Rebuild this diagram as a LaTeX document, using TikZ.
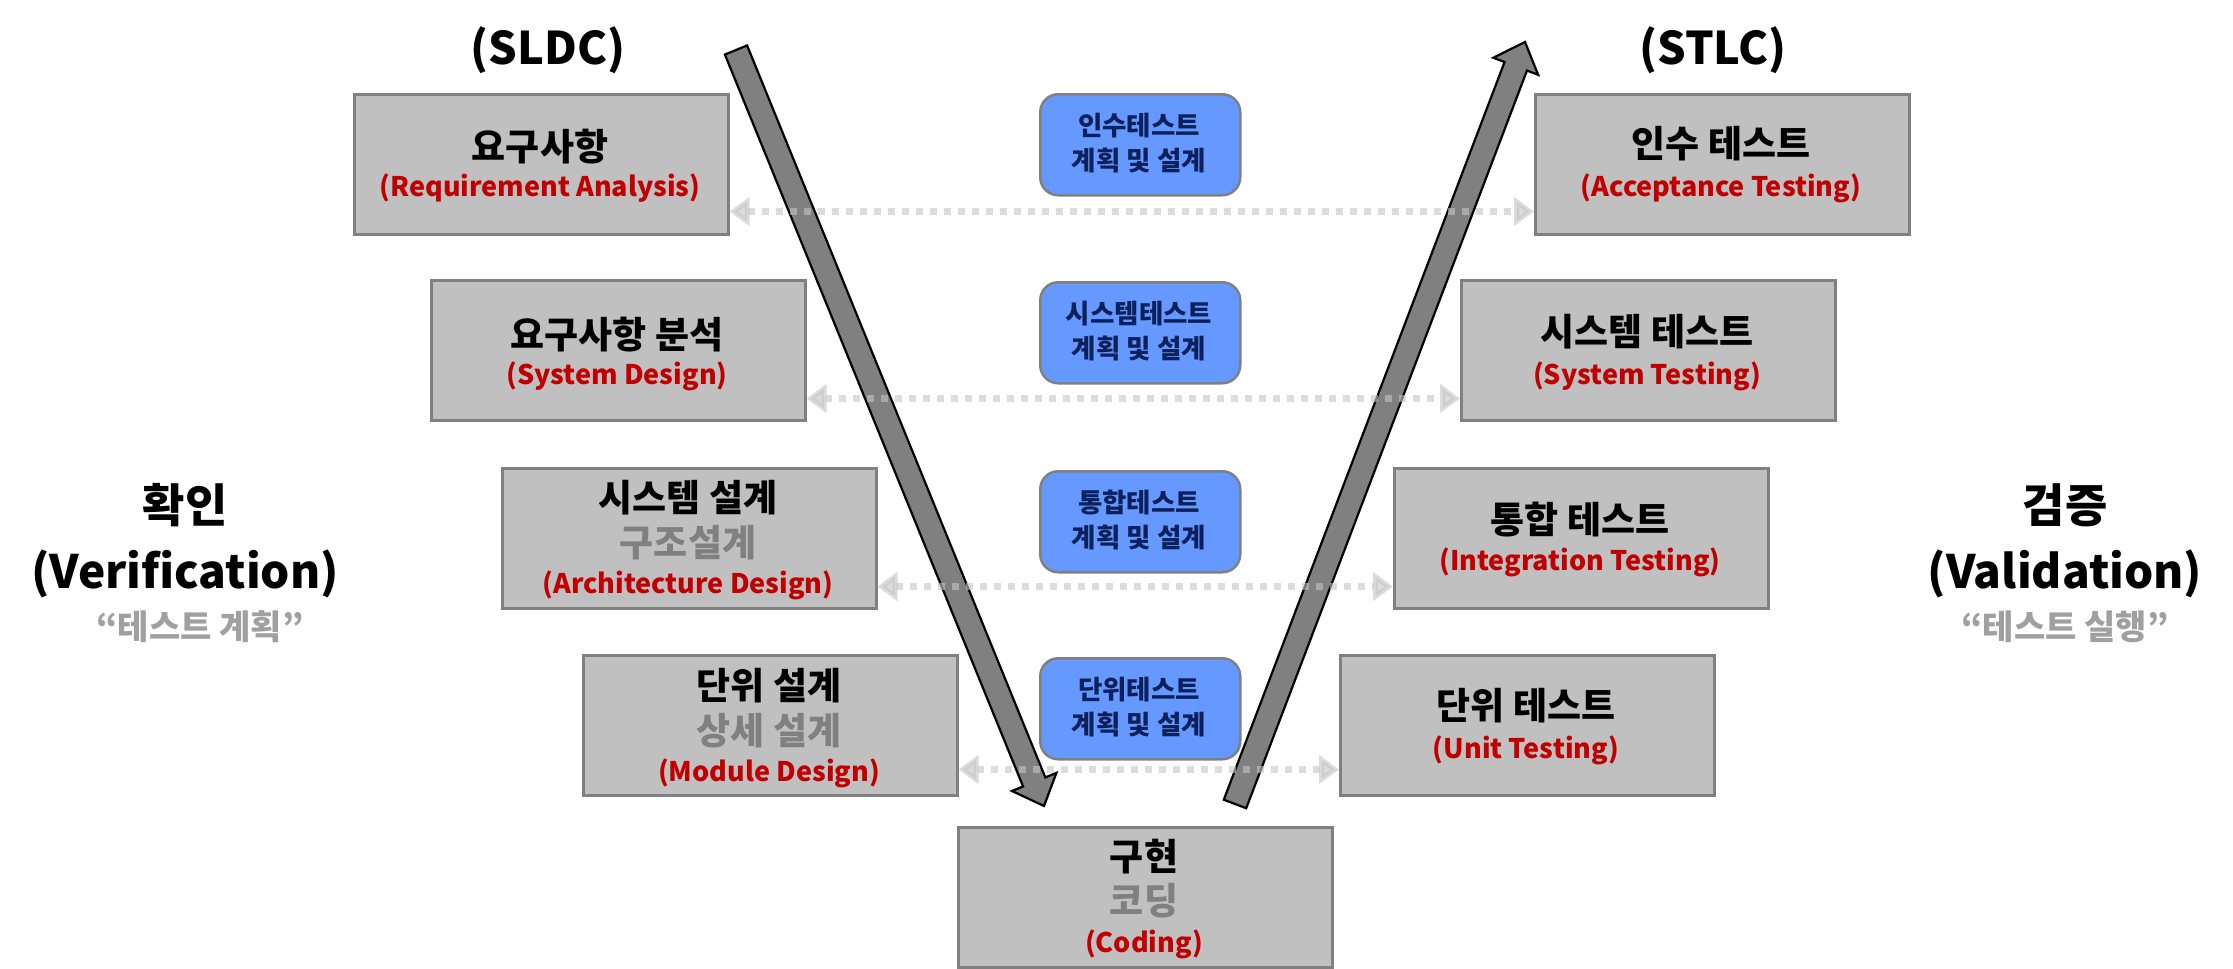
\documentclass[tikz,border=0pt]{standalone}
\usepackage{fontspec}
\setmainfont{Noto Sans CJK KR}
\usetikzlibrary{calc,arrows.meta}

\definecolor{boxfill}{RGB}{192,192,192}
\definecolor{boxline}{RGB}{128,128,128}
\definecolor{bluefill}{RGB}{102,153,255}
\definecolor{navytext}{RGB}{12,32,92}
\definecolor{redtext}{RGB}{192,0,0}
\definecolor{graytext}{RGB}{128,128,128}
\definecolor{quotegray}{RGB}{160,160,160}
\definecolor{dotgray}{RGB}{197,197,197}
\definecolor{arrowgray}{RGB}{128,128,128}

\newcommand{\fsz}[1]{\bfseries\fontsize{#1}{#1}\selectfont}

\begin{document}
\begin{tikzpicture}[x=1pt,y=-1pt,
  phase/.style={draw=boxline, line width=2.5pt, fill=boxfill, minimum width=374pt, minimum height=140pt, inner sep=0pt, anchor=north west},
  plan/.style={draw=boxline, line width=2.5pt, fill=bluefill, rounded corners=18pt, minimum width=200pt, minimum height=101pt, inner sep=0pt, anchor=north west},
  ttl/.style={inner sep=0pt, font=\fsz{37}, text=black},
  sub/.style={inner sep=0pt, font=\fsz{27}, text=redtext},
  gry/.style={inner sep=0pt, font=\fsz{37}, text=graytext},
  pln/.style={inner sep=0pt, font=\fsz{26.5}, text=navytext},
  big/.style={inner sep=0pt, font=\fsz{46}, text=black},
  quo/.style={inner sep=0pt, font=\fsz{34}, text=quotegray},
  head/.style={inner sep=0pt, font=\fsz{45}, text=black},
  bigarrow/.style={draw=black, line width=2.2pt, fill=arrowgray, line join=miter},
  dotarrow/.style={draw=dotgray, line width=7pt, dash pattern=on 7pt off 7pt, draw opacity=0.6, fill opacity=0.6,
     {Triangle[length=20pt,width=28pt,fill=dotgray]}-{Triangle[length=20pt,width=28pt,fill=dotgray]}}
]
\useasboundingbox (0,0) rectangle (2233,969);

% headings
\node[head] (sldc) at (548,50) {(SLDC)};
\node[head] (stlc) at (1713,50) {(STLC)};

% left / right labels
\node[big] (ver1) at (185,505) {확인};
\node[big] (ver2) at (185,574) {(Verification)};
\node[quo] (ver3) at (200,627) {“테스트 계획”};
\node[big] (val1) at (2065,505) {검증};
\node[big] (val2) at (2065,574) {(Validation)};
\node[quo] (val3) at (2065,627) {“테스트 실행”};

% phase boxes
\node[phase] (req) at (353,93) {};
\node[ttl] (reqT) at (540,147) {요구사항};
\node[sub] (reqS) at (540,188) {(Requirement Analysis)};

\node[phase] (acc) at (1534,93) {};
\node[ttl] (accT) at (1721,144) {인수 테스트};
\node[sub] (accS) at (1721,188) {(Acceptance Testing)};

\node[phase] (sysd) at (430,279) {};
\node[ttl] (sysdT) at (617,335) {요구사항 분석};
\node[sub] (sysdS) at (617,376) {(System Design)};

\node[phase] (syst) at (1460,279) {};
\node[ttl] (systT) at (1647,332) {시스템 테스트};
\node[sub] (systS) at (1647,376) {(System Testing)};

\node[phase] (arch) at (501,467) {};
\node[ttl] (archT) at (688,498) {시스템 설계};
\node[gry] (archG) at (688,543) {구조설계};
\node[sub] (archS) at (688,585) {(Architecture Design)};

\node[phase] (intg) at (1393,467) {};
\node[ttl] (intgT) at (1580,520) {통합 테스트};
\node[sub] (intgS) at (1580,562) {(Integration Testing)};

\node[phase] (mod) at (582,654) {};
\node[ttl] (modT) at (769,686) {단위 설계};
\node[gry] (modG) at (769,731) {상세 설계};
\node[sub] (modS) at (769,773) {(Module Design)};

\node[phase] (unit) at (1339,654) {};
\node[ttl] (unitT) at (1526,706) {단위 테스트};
\node[sub] (unitS) at (1526,750) {(Unit Testing)};

\node[phase] (code) at (957,826) {};
\node[ttl] (codeT) at (1144,857) {구현};
\node[gry] (codeG) at (1144,901) {코딩};
\node[sub] (codeS) at (1144,944) {(Coding)};

% planning boxes
\node[plan] (p1) at (1039,93) {};
\node[pln] (p1a) at (1139,126) {인수테스트};
\node[pln] (p1b) at (1139,160) {계획 및 설계};
\node[plan] (p2) at (1039,281) {};
\node[pln] (p2a) at (1139,314) {시스템테스트};
\node[pln] (p2b) at (1139,348) {계획 및 설계};
\node[plan] (p3) at (1039,470) {};
\node[pln] (p3a) at (1139,503) {통합테스트};
\node[pln] (p3b) at (1139,537) {계획 및 설계};
\node[plan] (p4) at (1039,657) {};
\node[pln] (p4a) at (1139,690) {단위테스트};
\node[pln] (p4b) at (1139,724) {계획 및 설계};

% big V arrows
\coordinate (dA) at (736,50);
\coordinate (dB) at (1044,806);
\coordinate (dH) at ($(dB)!26pt!(dA)$);
\draw[bigarrow] ($(dA)!12pt!90:(dB)$) -- ($(dH)!12pt!90:(dB)$) -- ($(dH)!24pt!90:(dB)$) -- (dB)
  -- ($(dH)!24pt!-90:(dB)$) -- ($(dH)!12pt!-90:(dB)$) -- ($(dA)!12pt!-90:(dB)$) -- cycle;

\coordinate (uA) at (1235,804);
\coordinate (uB) at (1525,42);
\coordinate (uH) at ($(uB)!26pt!(uA)$);
\draw[bigarrow] ($(uA)!12pt!90:(uB)$) -- ($(uH)!12pt!90:(uB)$) -- ($(uH)!24pt!90:(uB)$) -- (uB)
  -- ($(uH)!24pt!-90:(uB)$) -- ($(uH)!12pt!-90:(uB)$) -- ($(uA)!12pt!-90:(uB)$) -- cycle;

% dotted correspondences
\draw[dotarrow] ($(req.south east)+(0,-24)$) -- ($(acc.south west)+(0,-24)$);
\draw[dotarrow] ($(sysd.south east)+(0,-23)$) -- ($(syst.south west)+(0,-23)$);
\draw[dotarrow] ($(arch.south east)+(0,-23)$) -- ($(intg.south west)+(0,-23)$);
\draw[dotarrow] ($(mod.south east)+(0,-27)$) -- ($(unit.south west)+(0,-27)$);
\end{tikzpicture}
\end{document}
